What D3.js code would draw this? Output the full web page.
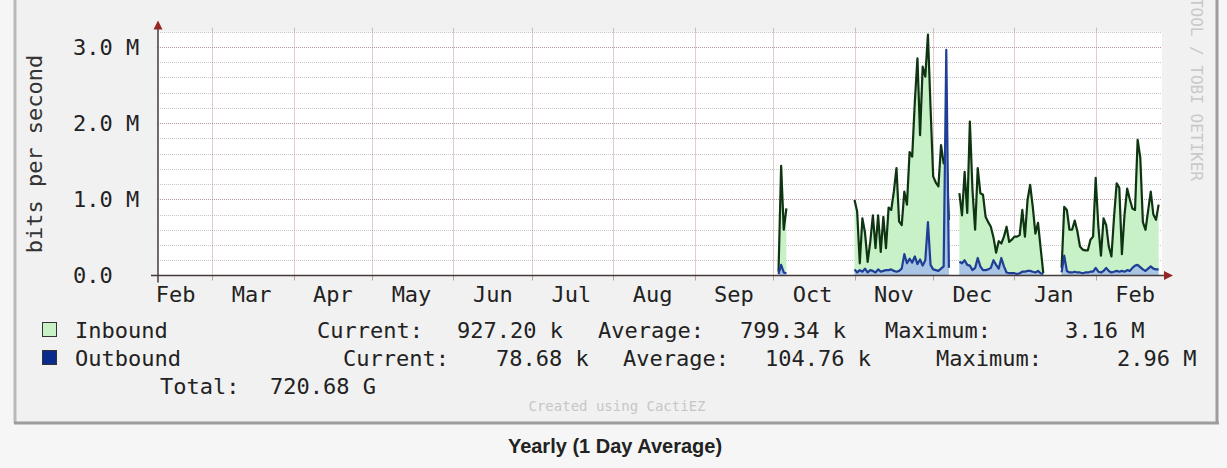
<!DOCTYPE html>
<html>
<head>
<meta charset="utf-8">
<script src="https://cdn.jsdelivr.net/npm/d3@7"></script>
<style>
body { margin: 0; background: #f6f6f6; }
svg { display: block; font-family: "DejaVu Sans Mono", monospace; }
</style>
</head>
<body>
<svg id="chart" width="1227" height="468"></svg>
<script>
// daily averages in Mbit/s, one array per run of known data
const segmentStarts = ["2012-10-03", "2012-11-01", "2012-12-11", "2013-01-19"];

const inboundOct = [0.05, 1.44, 0.60, 0.88];
const inboundNov = [0.99, 0.84, 0.16, 0.75, 0.56, 0.18, 0.44, 0.79, 0.36, 0.79, 0.31, 0.77, 0.36, 0.89,
    0.86, 1.10, 1.41, 0.71, 0.66, 1.10, 0.93, 1.62, 1.56, 2.28, 2.85, 1.84, 2.74, 2.61, 3.16, 2.20,
    1.30, 1.22, 1.17, 1.71, 1.47, 1.60, 0.73];
const inboundDec = [1.08, 0.79, 1.36, 0.82, 2.02, 1.12, 0.60, 1.41, 1.08, 1.06, 0.77, 0.70, 0.64, 0.50,
    0.30, 0.45, 0.42, 0.51, 0.64, 0.44, 0.47, 0.51, 0.51, 0.53, 0.86, 0.51, 0.99, 1.19, 0.90, 0.55,
    0.69, 0.36, 0.03];
const inboundJan = [0.10, 0.90, 0.86, 0.60, 0.60, 0.72, 0.58, 0.38, 0.34, 0.33, 0.33, 0.47, 0.51, 1.28,
    0.65, 0.26, 0.75, 0.66, 0.38, 0.25, 0.77, 1.21, 1.15, 0.28, 0.80, 1.14, 1.00, 0.88, 0.86, 1.78,
    1.55, 0.70, 0.60, 0.85, 1.10, 0.80, 0.73, 0.93];

const outboundOct = [0.02, 0.14, 0.04, 0.03];
const outboundNov = [0.08, 0.04, 0.07, 0.05, 0.09, 0.04, 0.07, 0.06, 0.04, 0.08, 0.05, 0.06, 0.07, 0.07,
    0.08, 0.06, 0.05, 0.06, 0.09, 0.28, 0.16, 0.22, 0.17, 0.25, 0.15, 0.21, 0.13, 0.20, 0.70, 0.14,
    0.08, 0.07, 0.06, 0.09, 0.12, 2.96, 0.10];
const outboundDec = [0.18, 0.16, 0.20, 0.14, 0.13, 0.07, 0.10, 0.23, 0.12, 0.07, 0.07, 0.08, 0.10, 0.20,
    0.14, 0.09, 0.23, 0.12, 0.04, 0.03, 0.03, 0.03, 0.02, 0.03, 0.05, 0.05, 0.06, 0.06, 0.05, 0.04,
    0.06, 0.03, 0.02];
const outboundJan = [0.04, 0.26, 0.06, 0.04, 0.04, 0.05, 0.04, 0.04, 0.03, 0.04, 0.04, 0.05, 0.05, 0.10,
    0.05, 0.04, 0.06, 0.10, 0.06, 0.04, 0.05, 0.06, 0.05, 0.06, 0.05, 0.07, 0.06, 0.10, 0.13, 0.14,
    0.11, 0.08, 0.06, 0.09, 0.12, 0.09, 0.08, 0.08];

const yMajor = [0, 1, 2, 3];
const yLabels = ["0.0", "1.0 M", "2.0 M", "3.0 M"];

const legendNames = ["Inbound", "Outbound"];
const legendCurrent = ["927.20 k", "78.68 k"];
const legendAverage = ["799.34 k", "104.76 k"];
const legendMaximum = ["3.16 M", "2.96 M"];
const totalText = "720.68 G";

const svg = d3.select('#chart');
const parseDay = d3.timeParse("%Y-%m-%d");

let plot = { left: 158, right: 1162, top: 31.6, bottom: 275.5 };
let colors = {
    inArea: '#c8f1c8', inLine: '#0f3411',
    outArea: '#a9c5e3', outLine: '#1f3f96',
    text: '#222', axis: '#463a3a', arrow: '#962626'
};

let x = d3.scaleTime()
    .domain([new Date(2012, 1, 9, 7), new Date(2013, 1, 26, 7)])
    .range([plot.left, plot.right]);

let y = d3.scaleLinear()
    .domain([0, 3.2])
    .range([plot.bottom, plot.top]);

// frame of the rrdtool image
svg.append('rect').attr('x', 14).attr('y', -10).attr('width', 1204).attr('height', 433).attr('fill', '#f1f1f1');
svg.append('line').attr('x1', 15).attr('y1', -10).attr('x2', 15).attr('y2', 423)
    .attr('stroke', '#b9b9b9').attr('stroke-width', 3);
svg.append('line').attr('x1', 1217).attr('y1', -10).attr('x2', 1217).attr('y2', 424)
    .attr('stroke', '#9c9c9c').attr('stroke-width', 3);
svg.append('line').attr('x1', 14).attr('y1', 423).attr('x2', 1219).attr('y2', 423)
    .attr('stroke', '#9c9c9c').attr('stroke-width', 3);

svg.append('rect')
    .attr('x', plot.left).attr('y', plot.top)
    .attr('width', plot.right - plot.left).attr('height', plot.bottom - plot.top)
    .attr('fill', '#fff');

// grid
let minorTicks = d3.range(1, 17).map(i => i * 0.2).filter(v => Math.abs(v - Math.round(v)) > 0.01);
svg.append('g').selectAll('line')
    .data(minorTicks)
    .enter().append('line')
    .attr('x1', plot.left).attr('x2', plot.right)
    .attr('y1', d => Math.round(y(d)) + 0.5).attr('y2', d => Math.round(y(d)) + 0.5)
    .attr('stroke', '#c6c6c6').attr('stroke-dasharray', '1,1');

svg.append('g').selectAll('line')
    .data(yMajor.slice(1))
    .enter().append('line')
    .attr('x1', plot.left).attr('x2', plot.right)
    .attr('y1', d => Math.round(y(d)) + 0.5).attr('y2', d => Math.round(y(d)) + 0.5)
    .attr('stroke', '#b49696').attr('stroke-dasharray', '1,1');

let months = d3.timeMonth.range(x.domain()[0], x.domain()[1]);
let monthGrid = svg.append('g');
monthGrid.selectAll('line.grid')
    .data(months)
    .enter().append('line')
    .attr('class', 'grid')
    .attr('x1', d => Math.round(x(d)) + 0.5).attr('x2', d => Math.round(x(d)) + 0.5)
    .attr('y1', plot.top).attr('y2', plot.bottom)
    .attr('stroke', '#c49c9c').attr('stroke-dasharray', '1,1');
monthGrid.selectAll('line.tick')
    .data(months)
    .enter().append('line')
    .attr('class', 'tick')
    .attr('x1', d => Math.round(x(d)) + 0.5).attr('x2', d => Math.round(x(d)) + 0.5)
    .attr('y1', plot.bottom).attr('y2', plot.bottom + 5)
    .attr('stroke', '#b8a0a0');
monthGrid.selectAll('line.top')
    .data(months)
    .enter().append('line')
    .attr('class', 'top')
    .attr('x1', d => Math.round(x(d)) + 0.5).attr('x2', d => Math.round(x(d)) + 0.5)
    .attr('y1', plot.top - 4).attr('y2', plot.top)
    .attr('stroke', '#c8c0c0');

// series
function toPoints(values, start) {
    let d0 = parseDay(start);
    return values.map((v, i) => ({ date: d3.timeDay.offset(d0, i), value: v }));
}

let inboundSegments = [inboundOct, inboundNov, inboundDec, inboundJan].map((s, i) => toPoints(s, segmentStarts[i]));
let outboundSegments = [outboundOct, outboundNov, outboundDec, outboundJan].map((s, i) => toPoints(s, segmentStarts[i]));

let area = d3.area().x(d => x(d.date)).y0(y(0)).y1(d => y(d.value));
let line = d3.line().x(d => x(d.date)).y(d => y(d.value));

let series = svg.append('g');
series.selectAll('path.in-area')
    .data(inboundSegments)
    .enter().append('path')
    .attr('class', 'in-area')
    .attr('d', area)
    .attr('fill', colors.inArea);
series.selectAll('path.in-line')
    .data(inboundSegments)
    .enter().append('path')
    .attr('class', 'in-line')
    .attr('d', line)
    .attr('fill', 'none')
    .attr('stroke', colors.inLine)
    .attr('stroke-width', 2.2)
    .attr('stroke-linejoin', 'round');
series.selectAll('path.out-area')
    .data(outboundSegments)
    .enter().append('path')
    .attr('class', 'out-area')
    .attr('d', area)
    .attr('fill', colors.outArea);
series.selectAll('path.out-line')
    .data(outboundSegments)
    .enter().append('path')
    .attr('class', 'out-line')
    .attr('d', line)
    .attr('fill', 'none')
    .attr('stroke', colors.outLine)
    .attr('stroke-width', 2.2)
    .attr('stroke-linejoin', 'round');

// axes with arrows
svg.append('line')
    .attr('x1', plot.left - 7).attr('x2', plot.right + 5)
    .attr('y1', plot.bottom).attr('y2', plot.bottom)
    .attr('stroke', colors.axis).attr('stroke-width', 1.5);
svg.append('line')
    .attr('x1', plot.left).attr('x2', plot.left)
    .attr('y1', plot.bottom + 7).attr('y2', plot.top - 5)
    .attr('stroke', colors.axis).attr('stroke-width', 1.5);
svg.append('path')
    .attr('d', `M${plot.right + 2},${plot.bottom - 4.5}L${plot.right + 11},${plot.bottom}L${plot.right + 2},${plot.bottom + 4.5}Z`)
    .attr('fill', colors.arrow);
svg.append('path')
    .attr('d', `M${plot.left - 4.5},${plot.top - 2}L${plot.left},${plot.top - 11}L${plot.left + 4.5},${plot.top - 2}Z`)
    .attr('fill', colors.arrow);

// labels
svg.append('g').selectAll('text')
    .data(yMajor)
    .enter().append('text')
    .attr('x', 73)
    .attr('y', d => y(d))
    .attr('dy', '0.36em')
    .attr('font-size', 22)
    .attr('fill', colors.text)
    .text((d, i) => yLabels[i]);

svg.append('g').selectAll('text')
    .data(d3.timeMonth.range(d3.timeMonth.floor(x.domain()[0]), x.domain()[1]))
    .enter().append('text')
    .attr('x', d => x(d3.timeDay.offset(d, 15)))
    .attr('y', 302)
    .attr('text-anchor', 'middle')
    .attr('font-size', 22)
    .attr('fill', colors.text)
    .text(d3.timeFormat('%b'));

svg.append('text')
    .attr('transform', 'translate(42,154) rotate(-90)')
    .attr('text-anchor', 'middle')
    .attr('font-size', 22)
    .attr('fill', '#333')
    .text('bits per second');

svg.append('text')
    .attr('transform', 'translate(1191,-31) rotate(90)')
    .attr('font-size', 16)
    .attr('fill', '#c9c9c9')
    .text('RRDTOOL / TOBI OETIKER');

// legend
let legendRows = [
    { y: 338, box: colors.inArea, cols: [75, 317, 457, 598, 740, 885, 1065] },
    { y: 366, box: '#0b2a8e', cols: [75, 343, 496, 623, 765, 936, 1117] }
];
let legend = svg.append('g').attr('font-size', 22).attr('fill', colors.text);
legendRows.forEach((row, i) => {
    legend.append('rect')
        .attr('x', 42.5).attr('y', row.y - 15.5)
        .attr('width', 14).attr('height', 14)
        .attr('fill', row.box).attr('stroke', '#333');
    let parts = [legendNames[i], 'Current:', legendCurrent[i], 'Average:', legendAverage[i], 'Maximum:', legendMaximum[i]];
    parts.forEach((p, j) => {
        legend.append('text').attr('x', row.cols[j]).attr('y', row.y).text(p);
    });
});
legend.append('text').attr('x', 160).attr('y', 394).text('Total:');
legend.append('text').attr('x', 270).attr('y', 394).text(totalText);

svg.append('text')
    .attr('x', 617).attr('y', 411)
    .attr('text-anchor', 'middle')
    .attr('font-size', 14)
    .attr('fill', '#c6c6c6')
    .text('Created using CactiEZ');

svg.append('text')
    .attr('x', 615).attr('y', 453)
    .attr('text-anchor', 'middle')
    .attr('font-family', '"Liberation Sans", Arial, sans-serif')
    .attr('font-weight', 'bold')
    .attr('font-size', 20)
    .attr('fill', '#222')
    .text('Yearly (1 Day Average)');
</script>
</body>
</html>
